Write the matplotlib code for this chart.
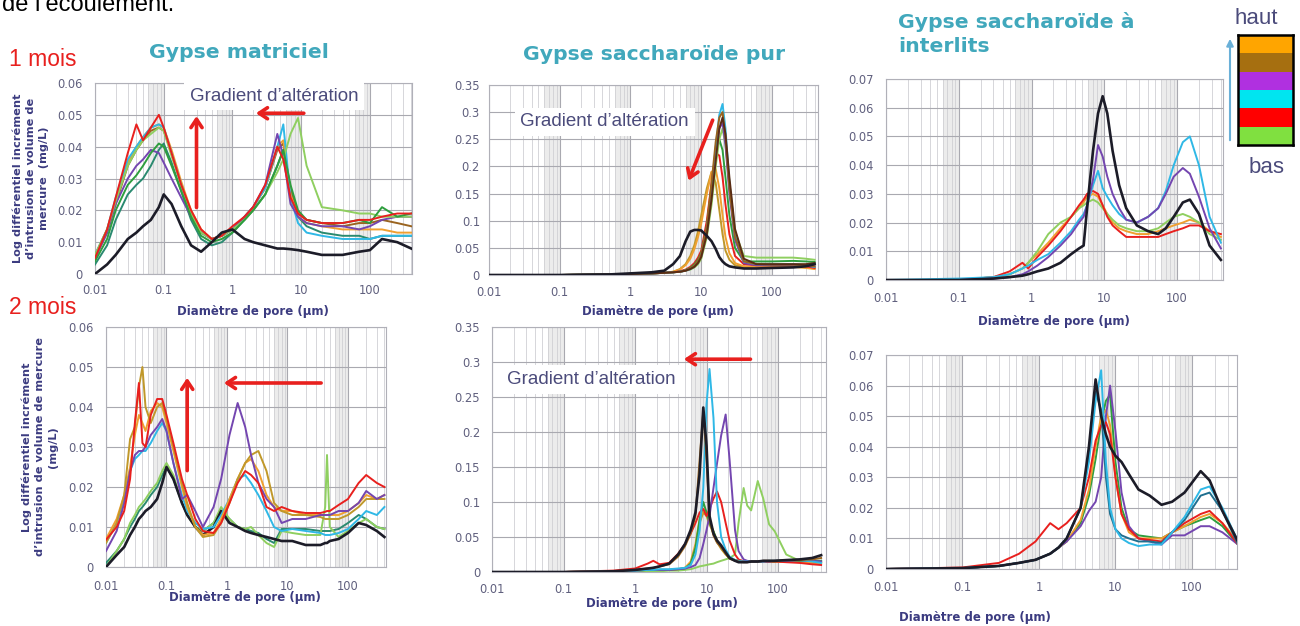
import numpy as np
import matplotlib.pyplot as plt
from matplotlib.patches import FancyArrowPatch

W, H = 1300, 626

# ---- données : diamètre (µm) / incrément (mg/L) ----
# Gypse matriciel, 1 mois
a_x = [0.01, 0.015, 0.02, 0.03, 0.04, 0.05, 0.065, 0.085, 0.1, 0.13, 0.18, 0.25, 0.35, 0.5, 0.7,
       1, 1.5, 2, 3, 4.5, 5.5, 7, 9, 12, 20, 40, 70, 100, 150, 250, 400]
a_series = {
    'sarcelle': [0.003, 0.009, 0.017, 0.025, 0.028, 0.030, 0.034, 0.039, 0.041, 0.035, 0.026, 0.017, 0.011, 0.009, 0.010,
                 0.013, 0.017, 0.020, 0.025, 0.034, 0.039, 0.027, 0.018, 0.015, 0.013, 0.012, 0.012, 0.011, 0.012, 0.012, 0.012],
    'marron': [0.005, 0.013, 0.022, 0.034, 0.039, 0.042, 0.045, 0.046, 0.045, 0.038, 0.028, 0.019, 0.013, 0.011, 0.012,
               0.014, 0.018, 0.021, 0.027, 0.039, 0.041, 0.026, 0.019, 0.017, 0.016, 0.015, 0.016, 0.016, 0.017, 0.016, 0.015],
    'orange': [0.006, 0.014, 0.023, 0.035, 0.040, 0.043, 0.046, 0.047, 0.046, 0.039, 0.029, 0.020, 0.014, 0.011, 0.012,
               0.014, 0.018, 0.021, 0.027, 0.040, 0.042, 0.025, 0.018, 0.016, 0.015, 0.014, 0.014, 0.014, 0.014, 0.013, 0.013],
    'cyan': [0.006, 0.014, 0.024, 0.036, 0.040, 0.043, 0.046, 0.047, 0.046, 0.038, 0.028, 0.019, 0.013, 0.011, 0.012,
             0.014, 0.018, 0.021, 0.027, 0.040, 0.047, 0.024, 0.016, 0.013, 0.012, 0.011, 0.011, 0.011, 0.012, 0.012, 0.012],
    'violet': [0.005, 0.013, 0.022, 0.030, 0.034, 0.036, 0.039, 0.038, 0.035, 0.030, 0.024, 0.018, 0.013, 0.011, 0.012,
               0.014, 0.018, 0.021, 0.028, 0.044, 0.037, 0.022, 0.018, 0.016, 0.015, 0.015, 0.014, 0.015, 0.017, 0.018, 0.018],
    'vert_clair': [0.006, 0.014, 0.023, 0.034, 0.039, 0.042, 0.044, 0.046, 0.045, 0.037, 0.028, 0.019, 0.013, 0.011, 0.012,
                   0.014, 0.017, 0.020, 0.025, 0.032, 0.036, 0.044, 0.049, 0.034, 0.021, 0.020, 0.019, 0.019, 0.018, 0.018, 0.018],
    'vert': [0.004, 0.011, 0.020, 0.028, 0.031, 0.034, 0.038, 0.041, 0.040, 0.034, 0.026, 0.018, 0.012, 0.010, 0.011,
             0.013, 0.017, 0.020, 0.025, 0.034, 0.039, 0.028, 0.020, 0.017, 0.016, 0.016, 0.017, 0.016, 0.021, 0.018, 0.019],
    'rouge': [0.005, 0.014, 0.024, 0.038, 0.047, 0.042, 0.046, 0.050, 0.046, 0.038, 0.028, 0.020, 0.014, 0.011, 0.012,
              0.015, 0.018, 0.021, 0.028, 0.040, 0.036, 0.024, 0.019, 0.017, 0.016, 0.016, 0.017, 0.017, 0.018, 0.019, 0.019],
    'noir': [0.000, 0.003, 0.006, 0.011, 0.013, 0.015, 0.017, 0.021, 0.025, 0.022, 0.015, 0.009, 0.007, 0.010, 0.013,
             0.014, 0.011, 0.010, 0.009, 0.008, 0.008, 0.0078, 0.0075, 0.007, 0.006, 0.006, 0.007, 0.0075, 0.011, 0.010, 0.008],
}

# Gypse matriciel, 2 mois
b_x = [0.01, 0.015, 0.02, 0.025, 0.03, 0.035, 0.04, 0.045, 0.055, 0.07, 0.085, 0.1, 0.13, 0.18, 0.22,
       0.3, 0.4, 0.6, 0.8, 1.1, 1.5, 2, 2.5, 3.3, 4.5, 6, 8, 12, 20, 35, 42, 45, 50, 70, 100, 150, 200, 300, 400]
b_series = {
    'sarcelle': [0.001, 0.004, 0.007, 0.010, 0.012, 0.014, 0.015, 0.016, 0.018, 0.020, 0.023, 0.025, 0.022, 0.016, 0.013,
                 0.010, 0.009, 0.011, 0.014, 0.012, 0.010, 0.0095, 0.009, 0.0085, 0.007, 0.006, 0.0095, 0.0095, 0.0095, 0.009,
                 0.009, 0.009, 0.009, 0.0095, 0.011, 0.013, 0.012, 0.010, 0.0095],
    'vert_clair': [0.000, 0.004, 0.007, 0.011, 0.013, 0.015, 0.016, 0.017, 0.019, 0.021, 0.024, 0.026, 0.023, 0.016, 0.013,
                   0.010, 0.009, 0.011, 0.015, 0.012, 0.010, 0.0095, 0.010, 0.008, 0.006, 0.005, 0.009, 0.0085, 0.008, 0.008,
                   0.015, 0.028, 0.010, 0.0075, 0.009, 0.011, 0.012, 0.010, 0.0095],
    'noir': [0.000, 0.003, 0.005, 0.008, 0.010, 0.012, 0.013, 0.014, 0.015, 0.017, 0.021, 0.025, 0.022, 0.016, 0.013,
             0.010, 0.008, 0.010, 0.014, 0.011, 0.010, 0.009, 0.0085, 0.008, 0.0075, 0.007, 0.0065, 0.0065, 0.0055, 0.0055,
             0.006, 0.006, 0.0065, 0.007, 0.0085, 0.011, 0.0105, 0.009, 0.0075],
    'cyan': [0.006, 0.011, 0.017, 0.024, 0.027, 0.028, 0.029, 0.029, 0.031, 0.034, 0.036, 0.034, 0.026, 0.018, 0.014,
             0.011, 0.0095, 0.010, 0.013, 0.017, 0.022, 0.023, 0.021, 0.018, 0.014, 0.010, 0.009, 0.0095, 0.009, 0.0085,
             0.008, 0.008, 0.008, 0.0085, 0.0095, 0.012, 0.014, 0.013, 0.015],
    'orange': [0.007, 0.012, 0.018, 0.025, 0.033, 0.038, 0.036, 0.034, 0.039, 0.041, 0.040, 0.036, 0.029, 0.020, 0.015,
               0.010, 0.008, 0.0085, 0.012, 0.017, 0.022, 0.026, 0.027, 0.024, 0.018, 0.015, 0.014, 0.014, 0.013, 0.013,
               0.013, 0.013, 0.013, 0.013, 0.014, 0.016, 0.018, 0.017, 0.018],
    'ocre': [0.006, 0.011, 0.018, 0.032, 0.035, 0.045, 0.050, 0.040, 0.036, 0.040, 0.041, 0.037, 0.030, 0.021, 0.016,
             0.010, 0.0075, 0.008, 0.011, 0.016, 0.022, 0.026, 0.028, 0.029, 0.024, 0.016, 0.014, 0.013, 0.013, 0.0125,
             0.012, 0.012, 0.012, 0.012, 0.013, 0.015, 0.017, 0.017, 0.017],
    'violet': [0.004, 0.009, 0.016, 0.024, 0.028, 0.029, 0.029, 0.030, 0.033, 0.035, 0.037, 0.034, 0.026, 0.017, 0.018,
               0.014, 0.010, 0.015, 0.022, 0.033, 0.041, 0.035, 0.028, 0.021, 0.017, 0.015, 0.011, 0.012, 0.012, 0.013,
               0.013, 0.013, 0.013, 0.014, 0.014, 0.016, 0.019, 0.017, 0.018],
    'rouge': [0.0068, 0.010, 0.014, 0.022, 0.036, 0.046, 0.031, 0.030, 0.038, 0.042, 0.042, 0.038, 0.031, 0.022, 0.018,
              0.012, 0.009, 0.0085, 0.011, 0.016, 0.021, 0.024, 0.023, 0.021, 0.015, 0.014, 0.015, 0.014, 0.0135, 0.0135,
              0.0138, 0.014, 0.014, 0.0155, 0.017, 0.021, 0.023, 0.021, 0.020],
}

# Gypse saccharoïde pur, 1 mois
c_x = [0.01, 0.1, 0.5, 1, 2, 3, 4, 5, 6, 7, 8, 9, 10, 12, 14, 16, 18, 20, 22, 25, 30, 40, 60, 100, 200, 300, 400]
c_series = {
    'ocre': [0, 0, 0.001, 0.002, 0.003, 0.004, 0.006, 0.011, 0.02, 0.035, 0.055, 0.08, 0.11, 0.16, 0.19,
             0.17, 0.12, 0.075, 0.045, 0.028, 0.018, 0.015, 0.015, 0.015, 0.015, 0.014, 0.012],
    'orange': [0, 0, 0.001, 0.002, 0.003, 0.004, 0.006, 0.010, 0.018, 0.030, 0.048, 0.07, 0.095, 0.15, 0.19,
               0.195, 0.16, 0.11, 0.07, 0.04, 0.022, 0.016, 0.015, 0.015, 0.015, 0.013, 0.011],
    'rouge': [0, 0, 0.001, 0.002, 0.003, 0.004, 0.005, 0.007, 0.010, 0.015, 0.022, 0.032, 0.045, 0.1, 0.17,
              0.225, 0.22, 0.18, 0.13, 0.075, 0.035, 0.02, 0.018, 0.018, 0.018, 0.016, 0.013],
    'vert': [0, 0, 0.001, 0.002, 0.003, 0.004, 0.005, 0.006, 0.009, 0.013, 0.019, 0.028, 0.04, 0.09, 0.16,
             0.22, 0.25, 0.23, 0.18, 0.11, 0.05, 0.025, 0.025, 0.025, 0.026, 0.025, 0.024],
    'vert_clair': [0, 0, 0.001, 0.002, 0.003, 0.004, 0.005, 0.006, 0.008, 0.010, 0.014, 0.02, 0.03, 0.07, 0.13,
                   0.2, 0.25, 0.27, 0.24, 0.17, 0.08, 0.035, 0.032, 0.032, 0.032, 0.03, 0.028],
    'violet': [0, 0, 0.001, 0.002, 0.003, 0.004, 0.005, 0.006, 0.008, 0.011, 0.016, 0.024, 0.035, 0.08, 0.15,
               0.22, 0.27, 0.28, 0.24, 0.15, 0.065, 0.022, 0.018, 0.018, 0.018, 0.017, 0.015],
    'cyan': [0, 0, 0.001, 0.002, 0.003, 0.004, 0.005, 0.006, 0.008, 0.011, 0.016, 0.024, 0.036, 0.085, 0.16,
             0.235, 0.295, 0.315, 0.27, 0.17, 0.075, 0.025, 0.02, 0.02, 0.02, 0.018, 0.015],
    'marron': [0, 0, 0.001, 0.002, 0.003, 0.004, 0.005, 0.006, 0.008, 0.012, 0.017, 0.026, 0.038, 0.09, 0.17,
               0.245, 0.29, 0.30, 0.255, 0.16, 0.07, 0.025, 0.02, 0.019, 0.019, 0.018, 0.016],
    'marron_fonce': [0, 0, 0.001, 0.002, 0.003, 0.004, 0.005, 0.006, 0.008, 0.011, 0.015, 0.022, 0.033, 0.075, 0.14,
                     0.21, 0.27, 0.29, 0.26, 0.18, 0.085, 0.03, 0.02, 0.02, 0.02, 0.02, 0.022],
    'noir': [0, 0, 0.001, 0.003, 0.005, 0.008, 0.020, 0.035, 0.062, 0.080, 0.083, 0.083, 0.082, 0.072, 0.062,
             0.048, 0.033, 0.025, 0.020, 0.016, 0.014, 0.012, 0.012, 0.013, 0.014, 0.016, 0.020],
}

# Gypse saccharoïde pur, 2 mois
d_x = [0.01, 0.1, 0.5, 1, 1.5, 1.8, 2.2, 3, 4, 5, 6, 7, 8, 9, 10, 11, 12.5, 14, 16, 18.5,
       21, 25, 28, 33, 37, 42, 52, 62, 75, 90, 130, 200, 300, 400]
d_series = {
    'vert_clair': [0, 0, 0, 0.001, 0.001, 0.001, 0.001, 0.002, 0.002, 0.003, 0.004, 0.006, 0.008, 0.009, 0.01, 0.011, 0.012,
                   0.014, 0.016, 0.018, 0.02, 0.025, 0.07, 0.12, 0.095, 0.088, 0.13, 0.105, 0.068, 0.058, 0.025, 0.016, 0.015, 0.015],
    'ocre': [0, 0, 0.001, 0.002, 0.003, 0.003, 0.003, 0.003, 0.004, 0.006, 0.013, 0.035, 0.07, 0.085, 0.08, 0.068, 0.055,
             0.043, 0.033, 0.025, 0.02, 0.017, 0.016, 0.015, 0.015, 0.015, 0.015, 0.015, 0.015, 0.015, 0.015, 0.015, 0.014, 0.013],
    'orange': [0, 0, 0.001, 0.002, 0.003, 0.003, 0.003, 0.003, 0.004, 0.006, 0.015, 0.04, 0.075, 0.09, 0.085, 0.07, 0.058,
               0.045, 0.035, 0.026, 0.02, 0.017, 0.016, 0.015, 0.015, 0.015, 0.015, 0.015, 0.015, 0.015, 0.015, 0.014, 0.013, 0.012],
    'vert': [0, 0, 0.001, 0.002, 0.003, 0.003, 0.003, 0.003, 0.004, 0.005, 0.012, 0.035, 0.075, 0.1, 0.085, 0.07, 0.058,
             0.045, 0.036, 0.027, 0.02, 0.017, 0.016, 0.015, 0.015, 0.015, 0.015, 0.015, 0.015, 0.015, 0.016, 0.016, 0.016, 0.016],
    'rouge': [0, 0, 0.002, 0.005, 0.012, 0.016, 0.011, 0.013, 0.026, 0.04, 0.055, 0.07, 0.085, 0.09, 0.08, 0.09, 0.105,
              0.115, 0.1, 0.07, 0.045, 0.025, 0.018, 0.015, 0.015, 0.015, 0.015, 0.015, 0.015, 0.015, 0.014, 0.013, 0.011, 0.01],
    'violet': [0, 0, 0.001, 0.002, 0.003, 0.003, 0.003, 0.003, 0.004, 0.005, 0.007, 0.01, 0.02, 0.04, 0.06, 0.08, 0.12,
               0.155, 0.195, 0.225, 0.16, 0.06, 0.03, 0.018, 0.016, 0.015, 0.015, 0.015, 0.015, 0.016, 0.016, 0.017, 0.016, 0.015],
    'cyan': [0, 0, 0.001, 0.002, 0.003, 0.003, 0.004, 0.004, 0.005, 0.006, 0.01, 0.025, 0.06, 0.12, 0.24, 0.29, 0.22,
             0.1, 0.05, 0.032, 0.022, 0.017, 0.016, 0.015, 0.015, 0.015, 0.015, 0.015, 0.016, 0.016, 0.017, 0.017, 0.015, 0.013],
    'marron': [0, 0, 0.001, 0.003, 0.005, 0.006, 0.008, 0.011, 0.022, 0.037, 0.055, 0.08, 0.16, 0.23, 0.16, 0.075, 0.052,
               0.042, 0.035, 0.026, 0.019, 0.016, 0.015, 0.014, 0.014, 0.015, 0.015, 0.016, 0.016, 0.016, 0.017, 0.017, 0.018, 0.02],
    'noir': [0, 0, 0.001, 0.003, 0.005, 0.006, 0.008, 0.012, 0.025, 0.040, 0.060, 0.085, 0.14, 0.235, 0.18, 0.08, 0.055,
             0.045, 0.038, 0.028, 0.02, 0.016, 0.014, 0.014, 0.014, 0.015, 0.015, 0.016, 0.016, 0.016, 0.017, 0.018, 0.02, 0.024],
}

# Gypse saccharoïde à interlits, 1 mois
e_x = [0.01, 0.1, 0.3, 0.5, 0.75, 0.9, 1.2, 1.7, 2.5, 3.5, 4.5, 5.2, 5.8, 7, 8.2,
       9.5, 11, 13, 16, 20, 28, 40, 55, 70, 90, 120, 150, 200, 280, 400]
e_series = {
    'orange': [0, 0, 0.001, 0.002, 0.004, 0.006, 0.009, 0.013, 0.018, 0.022, 0.025, 0.027, 0.029, 0.03, 0.029,
               0.026, 0.023, 0.02, 0.018, 0.017, 0.016, 0.016, 0.017, 0.018, 0.019, 0.02, 0.021, 0.02, 0.017, 0.015],
    'vert_clair': [0, 0, 0.001, 0.002, 0.004, 0.006, 0.01, 0.016, 0.02, 0.022, 0.025, 0.026, 0.027, 0.028, 0.027,
                   0.025, 0.023, 0.021, 0.019, 0.018, 0.017, 0.017, 0.018, 0.02, 0.022, 0.023, 0.022, 0.02, 0.016, 0.014],
    'rouge': [0, 0, 0.001, 0.003, 0.006, 0.004, 0.008, 0.012, 0.017, 0.022, 0.026, 0.028, 0.03, 0.031, 0.03,
              0.026, 0.022, 0.019, 0.017, 0.015, 0.015, 0.015, 0.015, 0.016, 0.017, 0.018, 0.019, 0.019, 0.017, 0.016],
    'cyan': [0, 0.0005, 0.001, 0.002, 0.004, 0.005, 0.007, 0.009, 0.013, 0.017, 0.021, 0.023, 0.026, 0.033, 0.038,
             0.032, 0.029, 0.026, 0.023, 0.021, 0.02, 0.022, 0.025, 0.031, 0.04, 0.048, 0.05, 0.04, 0.022, 0.013],
    'violet': [0, 0, 0.0005, 0.001, 0.002, 0.003, 0.005, 0.008, 0.012, 0.016, 0.02, 0.022, 0.026, 0.035, 0.047,
               0.043, 0.036, 0.03, 0.025, 0.021, 0.02, 0.022, 0.025, 0.03, 0.036, 0.039, 0.037, 0.029, 0.018, 0.011],
    'noir': [0, 0, 0.0005, 0.001, 0.0015, 0.002, 0.003, 0.004, 0.006, 0.009, 0.011, 0.012, 0.025, 0.045, 0.058,
             0.064, 0.058, 0.045, 0.033, 0.025, 0.019, 0.017, 0.016, 0.018, 0.022, 0.027, 0.028, 0.023, 0.012, 0.007],
}

# Gypse saccharoïde à interlits, 2 mois
f_x = [0.01, 0.1, 0.3, 0.55, 0.9, 1.4, 1.8, 2.3, 3.5, 4.5, 5.5, 6.5, 7.5, 8.5, 10,
       12, 15, 20, 28, 40, 55, 80, 130, 170, 250, 400]
f_series = {
    'vert': [0, 0.0003, 0.001, 0.002, 0.003, 0.005, 0.007, 0.009, 0.015, 0.024, 0.036, 0.048, 0.055, 0.057, 0.035,
             0.02, 0.013, 0.011, 0.0105, 0.01, 0.012, 0.014, 0.016, 0.017, 0.014, 0.008],
    'orange': [0, 0.0003, 0.001, 0.002, 0.003, 0.005, 0.007, 0.009, 0.016, 0.026, 0.04, 0.05, 0.052, 0.047, 0.03,
               0.018, 0.012, 0.01, 0.01, 0.01, 0.012, 0.014, 0.017, 0.018, 0.015, 0.009],
    'violet': [0, 0.0003, 0.001, 0.002, 0.003, 0.005, 0.007, 0.009, 0.014, 0.019, 0.022, 0.03, 0.05, 0.06, 0.045,
               0.025, 0.014, 0.01, 0.009, 0.008, 0.011, 0.011, 0.014, 0.014, 0.012, 0.008],
    'rouge': [0, 0.0005, 0.002, 0.005, 0.009, 0.015, 0.013, 0.015, 0.02, 0.03, 0.042, 0.047, 0.048, 0.044, 0.03,
              0.018, 0.013, 0.01, 0.0095, 0.009, 0.012, 0.015, 0.018, 0.019, 0.015, 0.008],
    'bleu_vert': [0, 0.0003, 0.001, 0.002, 0.003, 0.005, 0.007, 0.01, 0.02, 0.038, 0.058, 0.052, 0.03, 0.018, 0.013,
                  0.011, 0.01, 0.009, 0.009, 0.0085, 0.012, 0.016, 0.024, 0.025, 0.019, 0.008],
    'cyan': [0, 0.0003, 0.001, 0.002, 0.003, 0.005, 0.007, 0.01, 0.02, 0.035, 0.055, 0.065, 0.035, 0.02, 0.013,
             0.01, 0.0085, 0.0075, 0.008, 0.008, 0.012, 0.017, 0.026, 0.027, 0.02, 0.009],
    'noir': [0, 0.0003, 0.001, 0.002, 0.003, 0.005, 0.007, 0.01, 0.02, 0.04, 0.062, 0.05, 0.044, 0.04, 0.037,
             0.035, 0.031, 0.026, 0.024, 0.021, 0.022, 0.025, 0.032, 0.029, 0.019, 0.009],
}

# légende "haut" -> "bas"
legende_couleurs = ['#ffa500', '#a66f10', '#b030e0', '#00e5f0', '#ff0000', '#80e040']

COULEURS = {
    'noir': '#1c1c28', 'rouge': '#e8201e', 'vert': '#2e9e3e', 'vert_clair': '#8fcf60',
    'cyan': '#2fb8e6', 'violet': '#7446b0', 'orange': '#f0a030', 'marron': '#9a6420',
    'marron_fonce': '#5a2c14', 'sarcelle': '#2a8a70', 'ocre': '#c0982a', 'bleu_vert': '#1f6f8f',
}

DECADES = [0.01, 0.1, 1, 10, 100]
DECADES_TXT = ['0.01', '0.1', '1', '10', '100']
MINEURES = [m * d for d in DECADES for m in range(2, 10)]

BLEU_TXT = '#3b3b80'
GRIS_TXT = '#60607e'
TURQUOISE = '#41a8bc'
ROUGE = '#e8201e'
VIOLET_TXT = '#4b4b7b'

fig = plt.figure(figsize=(13, 6.26), dpi=100)


def boite(x0, y0, x1, y1):
    return [x0 / W, 1 - y1 / H, (x1 - x0) / W, (y1 - y0) / H]


def texte(x, y, s, **kw):
    fig.text(x / W, 1 - y / H, s, **kw)


def panneau(rect, xs, series, ymax, ystep, xmax, xpad, ypad):
    ax = fig.add_axes(boite(*rect))
    ax.set_xscale('log')
    for d in DECADES:
        ax.axvspan(6 * d, 10 * d, color='#ececec', lw=0, zorder=0)
    for nom, ys in series.items():
        ax.plot(xs, ys, color=COULEURS[nom], lw=1.9 if nom == 'noir' else 1.4, zorder=3)
    ax.set_xlim(0.01, xmax)
    ax.set_ylim(0, ymax)
    ax.set_xticks(DECADES)
    ax.set_xticklabels(DECADES_TXT)
    ax.set_xticks([m for m in MINEURES if m < xmax], minor=True)
    ax.xaxis.set_minor_formatter(plt.NullFormatter())
    yt = np.round(np.arange(0, ymax + ystep / 2, ystep), 3)
    ax.set_yticks(yt)
    ax.set_yticklabels(['0' if v == 0 else f'{v:g}' for v in yt])
    ax.grid(which='major', color='#a9a9b0', lw=0.8)
    ax.grid(which='minor', axis='x', color='#d0d0d4', lw=0.6)
    ax.set_axisbelow(True)
    ax.tick_params(which='both', length=0, labelsize=8.3, labelcolor=GRIS_TXT)
    ax.tick_params(axis='x', pad=xpad)
    ax.tick_params(axis='y', pad=ypad)
    for s in ax.spines.values():
        s.set_color('#b0b0b8')
        s.set_linewidth(0.8)
    return ax


def fleche(ax, depart, arrivee):
    ax.annotate('', xy=arrivee, xytext=depart, annotation_clip=False, zorder=6,
                arrowprops=dict(arrowstyle='->,head_length=0.6,head_width=0.4', color=ROUGE, lw=2.6))


def gradient(ax, x, y):
    ax.text(x, y, 'Gradient d’altération', ha='center', va='center', fontsize=13.5,
            family='Liberation Sans', color=VIOLET_TXT, zorder=5, clip_on=False,
            bbox=dict(facecolor='white', edgecolor='none', pad=4))


ax_a = panneau((95, 83, 412, 274), a_x, a_series, 0.06, 0.01, 410, 7, 9)
ax_b = panneau((106, 327, 386, 567), b_x, b_series, 0.06, 0.01, 425, 9, 9)
ax_c = panneau((489, 85, 818, 275), c_x, c_series, 0.35, 0.05, 447, 8, 6.5)
ax_d = panneau((492, 327, 826, 572), d_x, d_series, 0.35, 0.05, 468, 8, 8.5)
ax_e = panneau((886, 79, 1223, 280), e_x, e_series, 0.07, 0.01, 428, 9, 9)
ax_f = panneau((886, 355, 1237, 569), f_x, f_series, 0.07, 0.01, 388, 8.5, 9)

# annotations
gradient(ax_a, 4.0, 0.0558)
fleche(ax_a, (0.3, 0.02), (0.3, 0.0505))
fleche(ax_a, (12, 0.0505), (2.0, 0.0505))
fleche(ax_b, (0.22, 0.0234), (0.22, 0.048))
fleche(ax_b, (40, 0.046), (0.8, 0.046))
gradient(ax_c, 0.43, 0.282)
fleche(ax_c, (15, 0.29), (6.4, 0.169))
gradient(ax_d, 0.243, 0.275)
fleche(ax_d, (45, 0.304), (4.4, 0.304))

# titres et étiquettes
titre = dict(color=TURQUOISE, fontsize=14.7, fontweight='bold', family='DejaVu Sans')
texte(239, 52, 'Gypse matriciel', ha='center', va='center', **titre)
texte(654, 55, 'Gypse saccharoïde pur', ha='center', va='center', **titre)
texte(898, 34, 'Gypse saccharoïde à\ninterlits', ha='left', va='center', linespacing=1.35, **titre)

mois = dict(color=ROUGE, fontsize=16.5, family='Liberation Sans', ha='left', va='center')
texte(9, 60, '1 mois', **mois)
texte(9, 307, '2 mois', **mois)
texte(2, 11, 'de l’écoulement.', fontsize=17, family='Liberation Sans', color='black', ha='left', va='baseline')

ylab = dict(rotation=90, ha='center', va='center', fontsize=8.2, fontweight='bold', color=BLEU_TXT,
            linespacing=1.4, multialignment='center')
texte(31, 178, 'Log différentiel incrément\nd’intrusion de volume de\nmercure  (mg/L)', **ylab)
texte(40, 447, 'Log différentiel incrément\nd’intrusion de volume de mercure\n(mg/L)', **ylab)

xlab = dict(ha='center', va='center', fontsize=8.5, fontweight='bold', color=BLEU_TXT)
for x, y in [(253, 312), (245, 598), (658, 311), (662, 603), (1054, 321), (975, 617)]:
    texte(x, y, 'Diamètre de pore (µm)', **xlab)

# légende colorée haut / bas
ax_leg = fig.add_axes(boite(1238, 35, 1293, 145))
ax_leg.barh(range(len(legende_couleurs)), [1] * len(legende_couleurs), height=1.0, color=legende_couleurs)
ax_leg.set_xlim(0, 1)
ax_leg.set_ylim(len(legende_couleurs) - 0.5, -0.5)
ax_leg.set_xticks([])
ax_leg.set_yticks([])
for s in ax_leg.spines.values():
    s.set_linewidth(1.8)
    s.set_color('black')
fig.add_artist(FancyArrowPatch((1230 / W, 1 - 143 / H), (1230 / W, 1 - 36 / H), transform=fig.transFigure,
                               arrowstyle='-|>', mutation_scale=10, color='#6ab0d8', lw=1.5))
texte(1256, 18, 'haut', ha='center', va='center', fontsize=16, family='Liberation Sans', color=VIOLET_TXT)
texte(1267, 168, 'bas', ha='center', va='center', fontsize=16, family='Liberation Sans', color=VIOLET_TXT)

fig.savefig('out.png', dpi=100)
